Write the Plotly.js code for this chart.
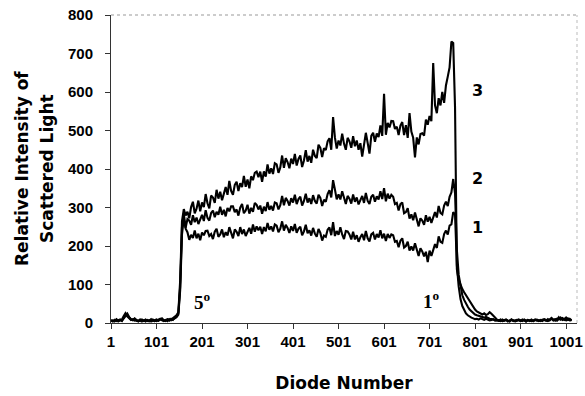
<!DOCTYPE html>
<html>
<head>
<meta charset="utf-8">
<script src="https://cdn.plot.ly/plotly-3.0.1.min.js"></script>
<style>
  html, body { margin: 0; padding: 0; background: #fff; }
  #chart { width: 585px; height: 396px; }
</style>
</head>
<body>
<div id="chart"></div>
<script>
// Diode numbers sampled every 4 diodes: 1, 5, 9, ... 1013
const diodeFirst = 1;
const diodeStep = 4;

// Series 1 (bottom curve)
const series1 = [
  6,4,8,5,7,9,6,12,18,24, 15,10,8,12,6,5,8,4,6,9, 5,7,4,8,6,5,9,11,7,6, 8,5,10,7,9,12,15,
  22,85,230,
  272,245,236,216,229,221,240,220,232,215,
  235,228,239,240,226,231,218,237,245,224,
  230,243,223,236,227,249,231,220,243,237,
  226,249,231,243,226,239,247,232,256,237,
  251,241,250,231,249,238,260,242,251,238,
  256,253,236,245,264,240,255,247,234,251,
  239,257,234,245,250,228,238,255,233,241,
  227,247,232,224,244,234,214,227,224,242,
  248,228,262,226,239,229,249,230,218,239,
  238,230,217,237,217,228,211,223,231,215,
  239,220,212,230,234,217,231,222,241,220,
  232,213,231,221,230,228,211,213,197,214,
  220,196,200,211,188,199,188,207,187,174,
  194,186,173,185,158,188,174,191,205,195,
  225,211,208,231,240,230,253,256,288,282,
  150,95,62,44,32,25,20,16,14,12, 10,11,9,12,10,8,11,9,7,8, 10,6,7,
  6,8,5,7,9,6,4,8,6,5, 7,9,5,6,8,4,7,6,9,5, 8,6,7,5,9,8,6,10,7,12, 8,6,11,9,14,8,10,7,12,9, 6
];

// Series 2 (middle curve)
const series2 = [
  5,7,4,9,6,8,5,14,22,17, 11,8,10,6,7,4,9,6,5,8, 7,4,6,9,5,8,6,10,8,5, 7,9,6,11,8,14,18,
  25,95,250,
  284,247,270,266,255,280,262,274,257,271,
  281,265,293,273,266,286,292,275,289,281,
  302,281,294,277,299,290,303,303,288,295,
  279,300,309,285,292,307,284,299,289,312,
  307,295,305,284,302,291,314,294,304,292,
  313,311,295,306,330,306,325,317,305,324,
  313,333,309,322,328,305,317,336,313,324,
  309,332,317,310,333,325,304,320,315,335,
  345,326,371,347,321,334,321,342,322,309,
  330,323,310,334,315,326,308,321,330,312,
  338,317,309,328,333,315,329,321,342,322,
  350,316,336,323,333,328,309,312,292,309,
  313,285,288,298,271,282,267,287,265,251,
  272,266,255,280,263,276,260,276,288,274,
  304,286,282,305,315,304,328,339,374,337,
  190,125,92,72,60,50,42,35,30,26, 22,20,18,17,15,14,16,13,11,10, 9,8,7,
  7,5,9,6,8,4,7,9,5,6, 8,7,5,9,6,4,8,7,5,6, 9,7,5,8,6,9,7,5,8,11, 7,9,6,12,10,13,8,11,9,7, 8
];

// Series 3 (top curve)
const series3 = [
  8,5,6,10,4,7,9,18,26,20, 13,9,7,11,8,6,5,9,7,4, 8,6,10,5,7,9,6,8,12,7, 5,10,8,9,13,16,20,
  28,110,265,
  296,279,289,272,301,315,285,297,318,290,
  313,301,335,311,298,331,326,312,346,323,
  341,319,339,353,333,369,343,333,359,367,
  343,363,353,382,354,373,350,381,371,390,
  393,379,393,367,394,380,412,388,402,387,
  415,412,390,404,435,403,428,418,402,427,
  413,439,409,426,435,405,422,449,419,434,
  416,450,434,428,463,455,431,454,449,472,
  480,450,535,482,453,474,461,492,466,450,
  481,472,455,485,459,474,450,467,432,458,
  494,468,440,486,494,471,492,483,513,486,
  595,489,520,508,525,524,504,510,488,513,
  522,488,514,481,545,497,481,430,482,464,
  491,493,487,528,515,538,524,675,565,545,
  584,565,600,572,617,640,664,731,727,560,
  140,112,98,88,80,72,64,56,48,41, 35,30,27,24,22,25,21,23,28,24, 18,12,9,
  6,9,5,7,8,6,5,9,7,4, 6,8,7,5,9,6,8,5,7,6, 8,9,6,7,5,10,8,6,9,13, 7,10,8,15,9,12,10,14,8,11, 7
];

const xTickVals = [1, 101, 201, 301, 401, 501, 601, 701, 801, 901, 1001];
const xTickText = ['1', '101', '201', '301', '401', '501', '601', '701', '801', '901', '1001'];
const yTickVals = [0, 100, 200, 300, 400, 500, 600, 700, 800];

const curveLabels = ['1', '2', '3'];
const curveLabelX = [807, 807, 807];
const curveLabelY = [247, 376, 605];
const angleLabels = ['5<sup>o</sup>', '1<sup>o</sup>'];
const angleLabelX = [201, 706];
const angleLabelY = [58, 60];

function diodes(n) {
  const arr = [];
  for (let i = 0; i < n; i++) arr.push(diodeFirst + diodeStep * i);
  return arr;
}

const boldSans = 'DejaVu Sans, Verdana, sans-serif';
const lineStyle = { color: '#000', width: 2.1 };
const traces = [series1, series2, series3].map((ys, k) => ({
  x: diodes(ys.length),
  y: ys,
  type: 'scatter',
  mode: 'lines',
  line: lineStyle,
  name: curveLabels[k],
  hoverinfo: 'skip'
}));

const annotations = [];
curveLabels.forEach((t, i) => annotations.push({
  x: curveLabelX[i], y: curveLabelY[i], xref: 'x', yref: 'y',
  text: t, showarrow: false,
  font: { family: boldSans, size: 16, color: '#000', weight: 'bold' }
}));
angleLabels.forEach((t, i) => annotations.push({
  x: angleLabelX[i], y: angleLabelY[i], xref: 'x', yref: 'y',
  text: t, showarrow: false,
  font: { family: 'Liberation Serif, Times New Roman, serif', size: 19, color: '#000', weight: 'bold' }
}));
// Y axis title (two lines)
annotations.push({
  xref: 'paper', yref: 'paper', x: (22 - 111) / 466, y: 0.5,
  xanchor: 'center', yanchor: 'middle', textangle: -90,
  text: 'Relative Intensity of', showarrow: false,
  font: { family: boldSans, size: 17, color: '#000', weight: 'bold' }
});
annotations.push({
  xref: 'paper', yref: 'paper', x: (47 - 111) / 466, y: 0.5,
  xanchor: 'center', yanchor: 'middle', textangle: -90,
  text: 'Scattered Light', showarrow: false,
  font: { family: boldSans, size: 17, color: '#000', weight: 'bold' }
});

const tickFont = { family: 'Liberation Sans, Arial, sans-serif', size: 15, color: '#000', weight: 'bold' };

const layout = {
  width: 585, height: 396,
  margin: { l: 111, r: 8, t: 15, b: 73 },
  paper_bgcolor: '#fff', plot_bgcolor: '#fff',
  showlegend: false,
  xaxis: {
    range: [1, 1025], tickmode: 'array', tickvals: xTickVals, ticktext: xTickText,
    ticks: 'outside', ticklen: 5, tickwidth: 1, tickcolor: '#333',
    showline: true, linecolor: '#333', linewidth: 1,
    showgrid: false, zeroline: false, tickfont: tickFont,
    ticklabelstandoff: 0,
    title: { text: 'Diode Number', standoff: 28,
      font: { family: boldSans, size: 17, color: '#000', weight: 'bold' } }
  },
  yaxis: {
    range: [0, 800], tickmode: 'array', tickvals: yTickVals,
    ticks: 'outside', ticklen: 5, tickwidth: 1, tickcolor: '#333',
    showline: true, linecolor: '#333', linewidth: 1,
    showgrid: false, zeroline: false, tickfont: tickFont,
    ticklabelstandoff: 9
  },
  shapes: [
    { type: 'line', xref: 'paper', yref: 'paper', x0: 0, x1: 1, y0: 1, y1: 1,
      line: { color: '#999', width: 1, dash: 'dot' } },
    { type: 'line', xref: 'paper', yref: 'paper', x0: 1, x1: 1, y0: 0, y1: 1,
      line: { color: '#bbb', width: 1, dash: 'dot' } }
  ],
  annotations: annotations
};

Plotly.newPlot('chart', traces, layout, { displayModeBar: false, staticPlot: true });
</script>
</body>
</html>
